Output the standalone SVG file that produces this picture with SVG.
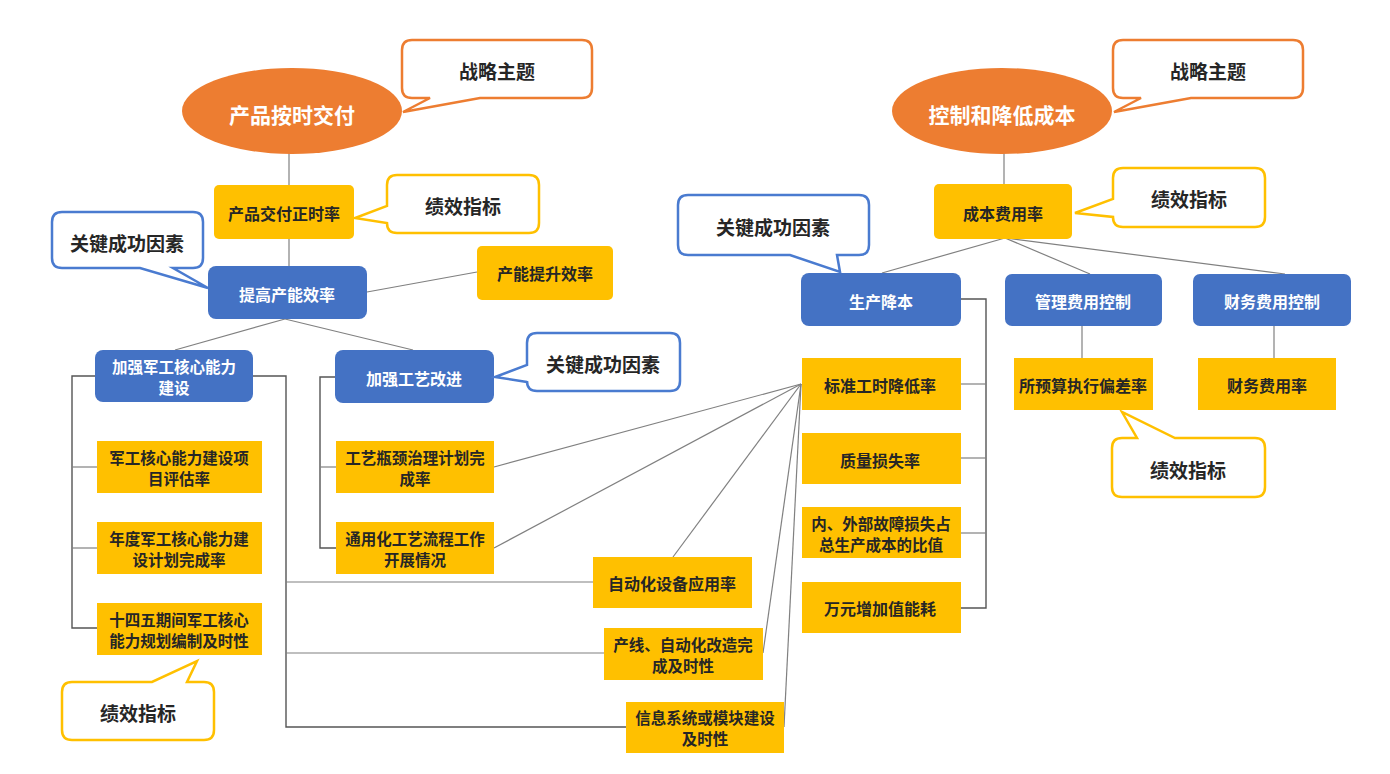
<svg xmlns="http://www.w3.org/2000/svg" width="1390" height="774" viewBox="0 0 1390 774">
<style>
text{font-family:"Noto Sans CJK SC","Noto Sans",sans-serif;font-weight:bold;text-anchor:middle;dominant-baseline:central}
.t{font-size:16px;fill:#262626}
.s{font-size:15.5px;fill:#262626}
.w{font-size:16px;fill:#ffffff}
.ws{font-size:15.5px;fill:#ffffff}
.e{font-size:21px;fill:#ffffff}
.b{font-size:19px;fill:#262626}
.yl{fill:#FFC000}
.bl{fill:#4472C4}
.or{fill:#ED7D31}
.bo{fill:#ffffff;stroke:#ED7D31;stroke-width:2.5}
.by{fill:#ffffff;stroke:#FFC000;stroke-width:2.5}
.bb{fill:#ffffff;stroke:#4A7BD0;stroke-width:2.5}
.c{fill:none;stroke:#808080;stroke-width:1.2}
.k{fill:none;stroke:#555555;stroke-width:1.4}
</style>
<rect width="1390" height="774" fill="#ffffff"/>
<g id="connectors">
<line class="c" x1="289" y1="153" x2="289" y2="185"/>
<line class="c" x1="289" y1="239" x2="289" y2="266"/>
<line class="c" x1="367" y1="292" x2="477" y2="272"/>
<line class="c" x1="285" y1="319" x2="175" y2="350"/>
<line class="c" x1="285" y1="319" x2="413" y2="350"/>
<path class="k" d="M95,376 H72 V628 H97"/>
<line class="c" x1="72" y1="467" x2="97" y2="467"/>
<line class="c" x1="72" y1="548" x2="97" y2="548"/>
<path class="k" d="M253,376 H286 V727 H626"/>
<line class="c" x1="286" y1="582" x2="593" y2="582"/>
<line class="c" x1="286" y1="653" x2="604" y2="653"/>
<path class="k" d="M335,377 H320 V548 H336"/>
<line class="c" x1="320" y1="467" x2="336" y2="467"/>
<line class="c" x1="801" y1="384" x2="494" y2="467"/>
<line class="c" x1="801" y1="384" x2="494" y2="548"/>
<line class="c" x1="801" y1="384" x2="673" y2="557"/>
<line class="c" x1="801" y1="384" x2="763" y2="653"/>
<line class="c" x1="801" y1="384" x2="784" y2="727"/>
<line class="c" x1="1004" y1="153" x2="1004" y2="184"/>
<line class="c" x1="1005" y1="238" x2="882" y2="273"/>
<line class="c" x1="1005" y1="238" x2="1090" y2="274"/>
<line class="c" x1="1005" y1="238" x2="1285" y2="274"/>
<path class="k" d="M961,299 H986 V608 H961"/>
<line class="c" x1="961" y1="384" x2="986" y2="384"/>
<line class="c" x1="961" y1="458" x2="986" y2="458"/>
<line class="c" x1="961" y1="533" x2="986" y2="533"/>
<line class="c" x1="1082" y1="326" x2="1082" y2="358"/>
<line class="c" x1="1274" y1="326" x2="1274" y2="358"/>
</g>
<g id="theme-left">
<ellipse class="or" cx="292" cy="111" rx="110" ry="43"/>
<text class="e" x="292" y="114">产品按时交付</text>
</g>
<g id="callout-theme-left">
<path class="bo" d="M412,40 H582 Q592,40 592,50 V88 Q592,98 582,98 H480 L403,112 L430,98 H412 Q402,98 402,88 V50 Q402,40 412,40 Z"/>
<text class="b" x="497" y="70">战略主题</text>
</g>
<g id="kpi-delivery">
<rect class="yl" x="214" y="185" width="140" height="54" rx="5"/>
<text class="t" x="284" y="213">产品交付正时率</text>
</g>
<g id="callout-kpi-1">
<path class="by" d="M397,175 H529 Q539,175 539,185 V223 Q539,233 529,233 H397 Q387,233 387,223 L355,218 L387,206 V185 Q387,175 397,175 Z"/>
<text class="b" x="463" y="205">绩效指标</text>
</g>
<g id="callout-csf-1">
<path class="bb" d="M62,212 H193 Q203,212 203,222 V258 Q203,268 193,268 H173 L208,288 L140,268 H62 Q52,268 52,258 V222 Q52,212 62,212 Z"/>
<text class="b" x="127" y="242">关键成功因素</text>
</g>
<g id="csf-capacity">
<rect class="bl" x="208" y="266" width="159" height="53" rx="8"/>
<text class="w" x="287" y="294">提高产能效率</text>
</g>
<g id="kpi-capacity">
<rect class="yl" x="477" y="246" width="136" height="54" rx="5"/>
<text class="t" x="545" y="273">产能提升效率</text>
</g>
<g id="csf-military">
<rect class="bl" x="95" y="350" width="158" height="52" rx="8"/>
<text class="ws" x="174" y="366">加强军工核心能力</text>
<text class="ws" x="174" y="387">建设</text>
</g>
<g id="csf-process">
<rect class="bl" x="335" y="350" width="159" height="53" rx="8"/>
<text class="w" x="414" y="378">加强工艺改进</text>
</g>
<g id="callout-csf-2">
<path class="bb" d="M537,333 H670 Q680,333 680,343 V381 Q680,391 670,391 H537 Q527,391 527,381 V382 L495,377 L527,365 V343 Q527,333 537,333 Z"/>
<text class="b" x="603" y="363">关键成功因素</text>
</g>
<g id="kpi-m1">
<rect class="yl" x="97" y="441" width="165" height="52"/>
<text class="s" x="179" y="457">军工核心能力建设项</text>
<text class="s" x="179" y="478">目评估率</text>
</g>
<g id="kpi-m2">
<rect class="yl" x="97" y="522" width="165" height="52"/>
<text class="s" x="179" y="538">年度军工核心能力建</text>
<text class="s" x="179" y="559">设计划完成率</text>
</g>
<g id="kpi-m3">
<rect class="yl" x="97" y="603" width="165" height="52"/>
<text class="s" x="179" y="619">十四五期间军工核心</text>
<text class="s" x="179" y="640">能力规划编制及时性</text>
</g>
<g id="callout-kpi-2">
<path class="by" d="M72,682 H152 L197,661 L187,682 H204 Q214,682 214,692 V730 Q214,740 204,740 H72 Q62,740 62,730 V692 Q62,682 72,682 Z"/>
<text class="b" x="138" y="712">绩效指标</text>
</g>
<g id="kpi-p1">
<rect class="yl" x="336" y="441" width="158" height="52"/>
<text class="s" x="415" y="457">工艺瓶颈治理计划完</text>
<text class="s" x="415" y="478">成率</text>
</g>
<g id="kpi-p2">
<rect class="yl" x="336" y="522" width="158" height="52"/>
<text class="s" x="415" y="538">通用化工艺流程工作</text>
<text class="s" x="415" y="559">开展情况</text>
</g>
<g id="kpi-auto">
<rect class="yl" x="593" y="557" width="159" height="51"/>
<text class="t" x="672" y="583">自动化设备应用率</text>
</g>
<g id="kpi-line">
<rect class="yl" x="604" y="628" width="159" height="52"/>
<text class="s" x="683" y="644">产线、自动化改造完</text>
<text class="s" x="683" y="665">成及时性</text>
</g>
<g id="kpi-info">
<rect class="yl" x="626" y="702" width="158" height="51"/>
<text class="s" x="705" y="717">信息系统或模块建设</text>
<text class="s" x="705" y="738">及时性</text>
</g>
<g id="theme-right">
<ellipse class="or" cx="1002" cy="111" rx="110" ry="43"/>
<text class="e" x="1002" y="114">控制和降低成本</text>
</g>
<g id="callout-theme-right">
<path class="bo" d="M1123,40 H1293 Q1303,40 1303,50 V88 Q1303,98 1293,98 H1191 L1114,112 L1141,98 H1123 Q1113,98 1113,88 V50 Q1113,40 1123,40 Z"/>
<text class="b" x="1208" y="70">战略主题</text>
</g>
<g id="kpi-cost">
<rect class="yl" x="934" y="184" width="138" height="55" rx="5"/>
<text class="t" x="1003" y="213">成本费用率</text>
</g>
<g id="callout-kpi-3">
<path class="by" d="M1123,168 H1255 Q1265,168 1265,178 V217 Q1265,227 1255,227 H1123 Q1113,227 1113,217 L1075,213 L1113,199 V178 Q1113,168 1123,168 Z"/>
<text class="b" x="1189" y="198">绩效指标</text>
</g>
<g id="callout-csf-3">
<path class="bb" d="M688,195 H859 Q869,195 869,205 V245 Q869,255 859,255 H837 L840,272 L790,255 H688 Q678,255 678,245 V205 Q678,195 688,195 Z"/>
<text class="b" x="773" y="226">关键成功因素</text>
</g>
<g id="csf-production">
<rect class="bl" x="801" y="273" width="160" height="53" rx="8"/>
<text class="w" x="881" y="301">生产降本</text>
</g>
<g id="csf-admin">
<rect class="bl" x="1005" y="274" width="157" height="52" rx="7"/>
<text class="w" x="1083" y="301">管理费用控制</text>
</g>
<g id="csf-finance">
<rect class="bl" x="1193" y="274" width="158" height="52" rx="7"/>
<text class="w" x="1272" y="301">财务费用控制</text>
</g>
<g id="kpi-r1">
<rect class="yl" x="802" y="358" width="159" height="52"/>
<text class="t" x="880" y="385">标准工时降低率</text>
</g>
<g id="kpi-r2">
<rect class="yl" x="802" y="433" width="159" height="51"/>
<text class="t" x="880" y="460">质量损失率</text>
</g>
<g id="kpi-r3">
<rect class="yl" x="802" y="507" width="159" height="51"/>
<text class="s" x="881" y="523">内、外部故障损失占</text>
<text class="s" x="881" y="544">总生产成本的比值</text>
</g>
<g id="kpi-r4">
<rect class="yl" x="802" y="582" width="159" height="51"/>
<text class="t" x="880" y="608">万元增加值能耗</text>
</g>
<g id="kpi-budget">
<rect class="yl" x="1014" y="358" width="139" height="52"/>
<text class="t" x="1083" y="385">所预算执行偏差率</text>
</g>
<g id="kpi-finance">
<rect class="yl" x="1198" y="358" width="138" height="52"/>
<text class="t" x="1267" y="385">财务费用率</text>
</g>
<g id="callout-kpi-4">
<path class="by" d="M1122,438 H1137 L1122,412 L1175,438 H1255 Q1265,438 1265,448 V487 Q1265,497 1255,497 H1122 Q1112,497 1112,487 V448 Q1112,438 1122,438 Z"/>
<text class="b" x="1188" y="469">绩效指标</text>
</g>
</svg>
